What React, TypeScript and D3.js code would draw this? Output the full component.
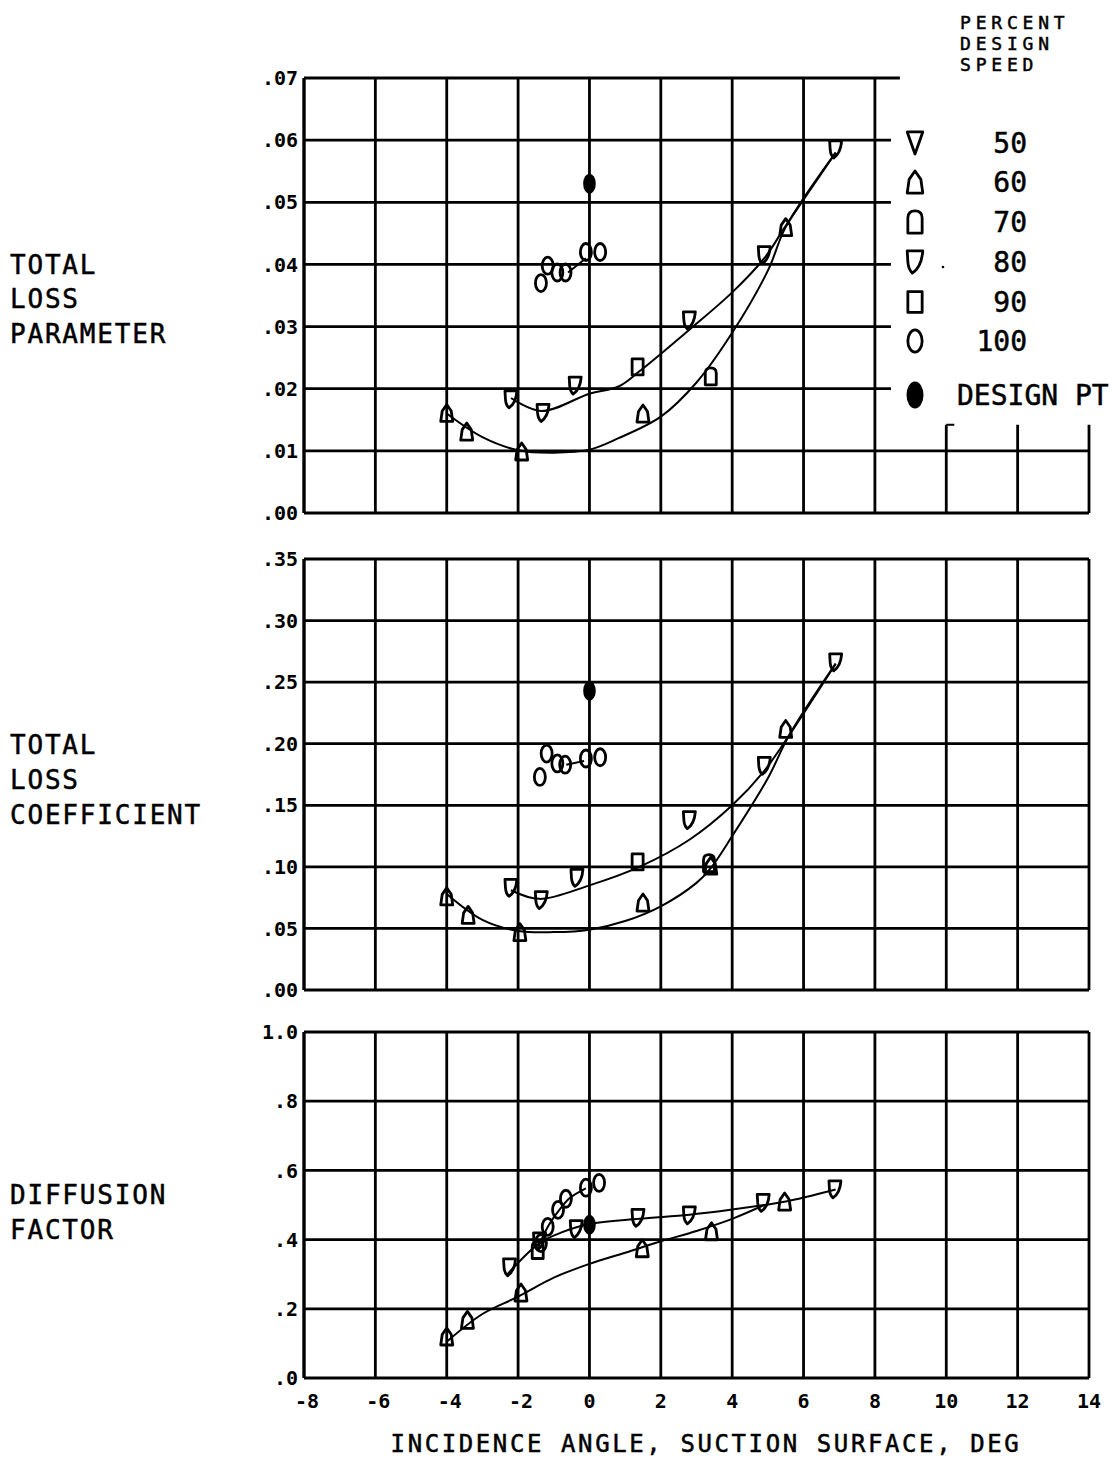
import React from 'react';
import * as d3 from 'd3';

const FONT = '"DejaVu Sans Mono", monospace';
const W = 1117;
const H = 1461;

// x axis
const xTicks = [-8, -6, -4, -2, 0, 2, 4, 6, 8, 10, 12, 14];

// tick values for each panel
const paramTicks = [0, 0.01, 0.02, 0.03, 0.04, 0.05, 0.06, 0.07];
const coefTicks = [0, 0.05, 0.1, 0.15, 0.2, 0.25, 0.3, 0.35];
const diffTicks = [0, 0.2, 0.4, 0.6, 0.8, 1.0];

// legend
const speeds = ['50', '60', '70', '80', '90', '100'];

// --- total loss parameter
const param60 = [[-4, 0.0161], [-3.44, 0.0131], [-1.9, 0.0099], [1.5, 0.016], [5.5, 0.046]];
const param70 = [[3.4, 0.022]];
const param80 = [[-2.2, 0.0183], [-1.3, 0.0161], [-0.4, 0.0205], [2.8, 0.031], [4.9, 0.0415], [6.9, 0.0585]];
const param90 = [[1.35, 0.0235]];
const param100 = [[-1.36, 0.037], [-1.17, 0.0398], [-0.9, 0.0387], [-0.67, 0.0387], [-0.1, 0.042], [0.3, 0.042]];
const paramDesign = [[0, 0.053]];
const paramFitHigh = [[-2.2, 0.0185], [-1.35, 0.0164], [0, 0.0192], [0.83, 0.0204], [1.4, 0.0228], [2.8, 0.0295], [4, 0.0355], [4.9, 0.041], [5.5, 0.0462], [6.9, 0.058]];
const paramFitLow = [[-4, 0.016], [-3, 0.0122], [-2, 0.0101], [-1, 0.0097], [0, 0.0102], [0.8, 0.012], [2, 0.0155], [3, 0.021], [4, 0.029], [5, 0.039], [5.5, 0.046], [6.9, 0.058]];
const param100Fit = [[-0.6, 0.0387], [-0.1, 0.041]];

// --- total loss coefficient
const coef60 = [[-4, 0.076], [-3.4, 0.061], [-1.95, 0.047], [1.5, 0.071], [3.4, 0.101], [5.5, 0.212]];
const coef70 = [[3.35, 0.103]];
const coef80 = [[-2.2, 0.083], [-1.35, 0.073], [-0.35, 0.091], [2.8, 0.138], [4.9, 0.182], [6.9, 0.266]];
const coef90 = [[1.35, 0.104]];
const coef100 = [[-1.39, 0.173], [-1.2, 0.192], [-0.9, 0.184], [-0.68, 0.183], [-0.1, 0.188], [0.3, 0.189]];
const coefDesign = [[0, 0.243]];
const coefFitHigh = [[-2.2, 0.081], [-1.4, 0.074], [0, 0.085], [1.4, 0.1], [2.8, 0.122], [4, 0.15], [4.9, 0.178], [5.6, 0.207], [6.9, 0.265]];
const coefFitLow = [[-4, 0.078], [-3, 0.057], [-2, 0.048], [-1, 0.047], [0, 0.049], [1, 0.056], [2, 0.068], [3, 0.087], [3.4, 0.099], [4, 0.125], [5, 0.172], [5.6, 0.207], [6.9, 0.265]];
const coef100Fit = [[-0.65, 0.183], [-0.15, 0.186]];

// --- diffusion factor
const diff60 = [[-4, 0.12], [-3.42, 0.168], [-1.92, 0.247], [1.48, 0.375], [3.42, 0.424], [5.47, 0.51]];
const diff70 = [[-1.45, 0.37]];
const diff80 = [[-2.24, 0.32], [-1.4, 0.395], [-0.37, 0.43], [1.36, 0.463], [2.8, 0.47], [4.87, 0.506], [6.88, 0.545]];
const diff90 = [];
const diff100 = [[-1.36, 0.39], [-1.17, 0.437], [-0.88, 0.486], [-0.66, 0.518], [-0.1, 0.55], [0.27, 0.564]];
const diffDesign = [[0, 0.443]];
const diffFitHigh = [[-2.3, 0.3], [-1.4, 0.39], [-0.8, 0.42], [0, 0.445], [1.4, 0.46], [2.8, 0.472], [4, 0.487], [4.9, 0.5], [5.5, 0.51], [6.9, 0.545]];
const diffFitLow = [[-4, 0.105], [-3, 0.185], [-2, 0.235], [-1, 0.29], [0, 0.33], [1, 0.362], [2, 0.395], [3, 0.425], [4, 0.46], [4.9, 0.5]];
const diff100Fit = [[-1.45, 0.375], [-1.15, 0.44], [-0.85, 0.485], [-0.55, 0.52], [-0.1, 0.548]];

const x = d3.scaleLinear().domain([-8, 14]).range([304, 1089]);

// symbol shapes, half width ~6, half height ~8.5
function symbolPath(kind: string, s = 1) {
  const p = (pts: string) => pts.replace(/-?\d+(\.\d+)?/g, v => String(+v * s));
  switch (kind) {
    case '50': return p('M-6,-8.5 L6,-8.5 L0,8.5 Z');
    case '60': return p('M0,-8.5 L-4.5,-2 L-6,8.5 L6,8.5 L4.5,-2 Z');
    case '70': return p('M-5.5,8.5 L-5.5,-3 Q-5.5,-8.5 0,-8.5 Q5.5,-8.5 5.5,-3 L5.5,8.5 Z');
    case '80': return p('M-6,-8.5 L6,-8.5 Q5,4 -2,8.5 Q-5,6 -5.5,0 Z');
    case '90': return p('M-5.5,-8 L5.5,-8 L5.5,8 L-5.5,8 Z');
    default: return '';
  }
}

function Marker({ kind, cx, cy, s = 1 }: { kind: string; cx: number; cy: number; s?: number }) {
  if (kind === '100') {
    return <ellipse cx={cx} cy={cy} rx={5.5 * s} ry={8.5 * s} fill="none" stroke="#000" strokeWidth={2.8} />;
  }
  if (kind === 'design') {
    return <ellipse cx={cx} cy={cy} rx={6.3 * s} ry={10 * s} fill="#000" />;
  }
  return (
    <path d={symbolPath(kind, s)} transform={`translate(${cx},${cy})`} fill="none"
      stroke="#000" strokeWidth={2.8} strokeLinejoin="round" />
  );
}

type Pt = number[];

interface PanelProps {
  domain: [number, number];
  range: [number, number];
  ticks: number[];
  fmt: (v: number) => string;
  groups: { kind: string; pts: Pt[] }[];
  fits: Pt[][];
  label: string[];
  labelY: number[];
  legendCut?: boolean;
}

function Panel({ domain, range, ticks, fmt, groups, fits, label, labelY, legendCut }: PanelProps) {
  const y = d3.scaleLinear().domain(domain).range(range);
  const line = d3.line<Pt>().x(d => x(d[0])).y(d => y(d[1])).curve(d3.curveCatmullRom.alpha(0.5));
  const top = domain[1];
  const cutY = 0.0142;
  return (
    <g>
      {/* vertical grid */}
      {xTicks.map(t => {
        const y1 = legendCut && t > 8 ? y(cutY) : y(top);
        return <line key={'v' + t} x1={x(t)} x2={x(t)} y1={y1} y2={y(0)} stroke="#000"
          strokeWidth={t === -8 ? 3.4 : 2.8} />;
      })}
      {legendCut && <line x1={x(10)} x2={x(10) + 8} y1={y(cutY)} y2={y(cutY)} stroke="#000" strokeWidth={2} />}
      {/* horizontal grid */}
      {ticks.map(t => {
        let x2 = x(14);
        if (legendCut && t >= 0.015) x2 = t === top ? x(8.7) : x(8.45);
        return <line key={'h' + t} x1={x(-8)} x2={x2} y1={y(t)} y2={y(t)} stroke="#000" strokeWidth={2.8} />;
      })}
      {ticks.map(t => (
        <text key={'tl' + t} x={298} y={y(t)} dy="0.36em" textAnchor="end" fontFamily={FONT}
          fontSize={20} fontWeight="bold" fill="#000">{fmt(t)}</text>
      ))}
      {label.map((s, i) => (
        <text key={s} x={10} y={labelY[i]} fontFamily={FONT} fontSize={26} letterSpacing={1.8}
          fill="#000" stroke="#000" strokeWidth={0.5}>{s}</text>
      ))}
      {fits.map((f, i) => (
        <path key={'f' + i} d={line(f) || ''} fill="none" stroke="#000" strokeWidth={2} />
      ))}
      {groups.map(g => g.pts.map((d, i) => (
        <Marker key={g.kind + i} kind={g.kind} cx={x(d[0])} cy={y(d[1])} />
      )))}
    </g>
  );
}

const fmt2 = (v: number) => d3.format('.2f')(v).replace(/^0/, '');
const fmt1 = (v: number) => (v === 1 ? '1.0' : d3.format('.1f')(v).replace(/^0/, ''));

export default function App() {
  const legendY = [143, 182, 222, 262, 302, 341];
  return (
    <svg width={W} height={H} style={{ position: 'absolute', left: 0, top: 0, background: '#fff' }}>
      <rect width={W} height={H} fill="#fff" />
      <Panel domain={[0, 0.07]} range={[513, 78]} ticks={paramTicks} fmt={fmt2}
        groups={[{ kind: '60', pts: param60 }, { kind: '70', pts: param70 }, { kind: '80', pts: param80 },
          { kind: '90', pts: param90 }, { kind: '100', pts: param100 }, { kind: 'design', pts: paramDesign }]}
        fits={[paramFitHigh, paramFitLow, param100Fit]}
        label={['TOTAL', 'LOSS', 'PARAMETER']} labelY={[274, 308, 343]} legendCut />
      <Panel domain={[0, 0.35]} range={[990, 559]} ticks={coefTicks} fmt={fmt2}
        groups={[{ kind: '60', pts: coef60 }, { kind: '70', pts: coef70 }, { kind: '80', pts: coef80 },
          { kind: '90', pts: coef90 }, { kind: '100', pts: coef100 }, { kind: 'design', pts: coefDesign }]}
        fits={[coefFitHigh, coefFitLow, coef100Fit]}
        label={['TOTAL', 'LOSS', 'COEFFICIENT']} labelY={[754, 789, 824]} />
      <Panel domain={[0, 1]} range={[1378, 1032]} ticks={diffTicks} fmt={fmt1}
        groups={[{ kind: '60', pts: diff60 }, { kind: '70', pts: diff70 }, { kind: '80', pts: diff80 },
          { kind: '90', pts: diff90 }, { kind: '100', pts: diff100 }, { kind: 'design', pts: diffDesign }]}
        fits={[diffFitHigh, diffFitLow, diff100Fit]}
        label={['DIFFUSION', 'FACTOR']} labelY={[1204, 1239]} />

      {/* x tick labels */}
      {xTicks.map(t => (
        <text key={'xt' + t} x={x(t) + (t < 0 ? 3 : 0)} y={1408} textAnchor="middle" fontFamily={FONT} fontSize={20}
          fontWeight="bold" fill="#000">{t}</text>
      ))}
      <text x={706} y={1452} textAnchor="middle" fontFamily={FONT} fontSize={24} letterSpacing={2.6}
        fill="#000" stroke="#000" strokeWidth={0.5}>INCIDENCE ANGLE, SUCTION SURFACE, DEG</text>

      {/* legend */}
      {['PERCENT', 'DESIGN', 'SPEED'].map((s, i) => (
        <text key={s} x={960} y={29 + i * 21} fontFamily={FONT} fontSize={18} letterSpacing={4.8}
          fill="#000" stroke="#000" strokeWidth={0.5}>{s}</text>
      ))}
      {speeds.map((s, i) => (
        <g key={'lg' + s}>
          <Marker kind={s} cx={915} cy={legendY[i]} s={1.3} />
          <text x={1027} y={legendY[i] + 10} textAnchor="end" fontFamily={FONT} fontSize={28}
            fill="#000" stroke="#000" strokeWidth={0.5}>{s}</text>
        </g>
      ))}
      <circle cx={943} cy={267} r={1.3} fill="#000" />
      <Marker kind="design" cx={915} cy={395} s={1.35} />
      <text x={957} y={405} fontFamily={FONT} fontSize={28} fill="#000" stroke="#000" strokeWidth={0.5}>DESIGN PT</text>
    </svg>
  );
}
